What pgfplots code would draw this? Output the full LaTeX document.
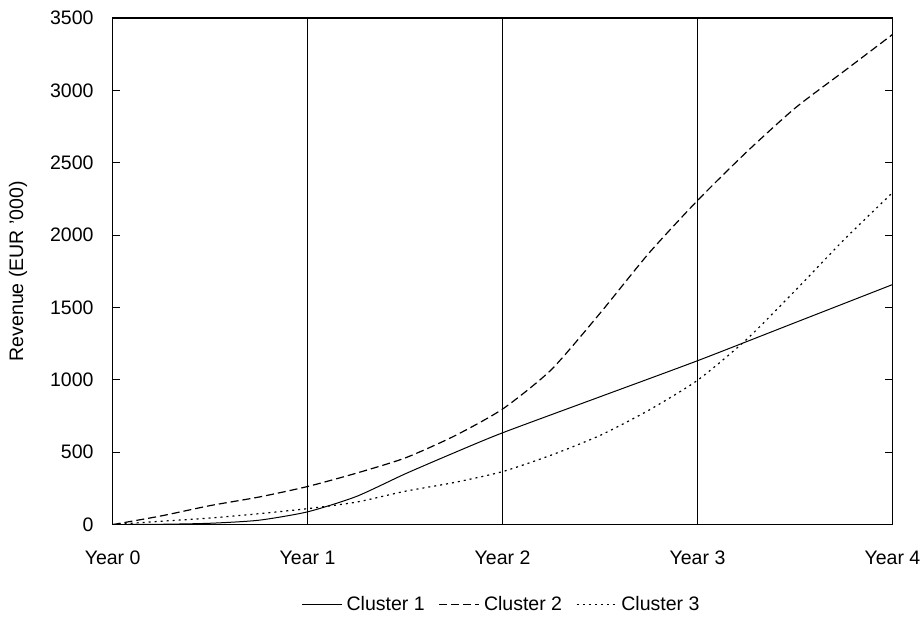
\documentclass[border=0pt]{standalone}
\usepackage{fontspec}
\setmainfont{Liberation Sans}
\usepackage{pgfplots}
\pgfplotsset{compat=1.18}

\begin{document}
\begin{tikzpicture}
  \begin{axis}[
    name=ax,
    scale only axis,
    width=389.5pt,
    height=253pt,
    xmin=0, xmax=4,
    ymin=0, ymax=3500,
    xtick={0,1,2,3,4},
    xticklabels={Year 0,Year 1,Year 2,Year 3,Year 4},
    ytick={0,500,...,3500},
    xmajorgrids=true,
    grid style={black,line width=0.5pt},
    axis line style={line width=0.75pt},
    tick style={black,line width=0.5pt},
    tick align=inside,
    major tick length=3.5pt,
    xtick style={draw=none},
    /pgf/number format/1000 sep={},
    /pgf/number format/assume math mode=true,
    tick label style={font=\fontsize{9.75}{11}\selectfont},
    xticklabel style={yshift=-9.7pt},
    yticklabel style={xshift=-6pt},
    ylabel={Revenue (EUR '000)},
    ylabel style={font=\fontsize{9.75}{11}\selectfont,
      at={(axis description cs:-0.1213,0.5)},anchor=center},
    legend columns=3,
    legend style={draw=none,at={(axis description cs:0.5,-0.158)},anchor=center,
      font=\fontsize{9.75}{11}\selectfont,
      /tikz/every even column/.append style={column sep=5pt}},
    legend image code/.code={\draw[#1] (0pt,0pt) -- (20pt,0pt);},
  ]
    \addplot[black,line width=0.5pt,smooth,tension=0.4] coordinates {
      (0,0) (0.25,2) (0.5,9) (0.75,30) (1,88) (1.25,194) (1.5,350)
      (1.75,495) (2,634) (2.5,883) (3,1132) (3.5,1395) (4,1658)};
    \addlegendentry{Cluster 1}

    \addplot[black,line width=0.6pt,dash pattern=on 4pt off 2pt,smooth,tension=0.4] coordinates {
      (0,0) (0.25,60) (0.5,131) (0.75,190) (1,263) (1.25,355) (1.5,460)
      (1.75,610) (2,798) (2.25,1070) (2.5,1460) (2.75,1874) (3,2239)
      (3.25,2572) (3.5,2877) (3.75,3131) (4,3386)};
    \addlegendentry{Cluster 2}

    \addplot[black,line width=0.6pt,dash pattern=on 1pt off 2pt,smooth,tension=0.4] coordinates {
      (0,0) (0.25,23) (0.5,45) (0.75,75) (1,110) (1.25,155) (1.5,230)
      (1.75,290) (2,366) (2.25,480) (2.5,616) (2.75,790) (3,997)
      (3.25,1277) (3.5,1615) (3.75,1966) (4,2293)};
    \addlegendentry{Cluster 3}
  \end{axis}
  \pgfresetboundingbox
  \path ([shift={(-56.25pt,-47.5pt)}]ax.south west) rectangle ([shift={(15.75pt,9pt)}]ax.north east);
\end{tikzpicture}
\end{document}
